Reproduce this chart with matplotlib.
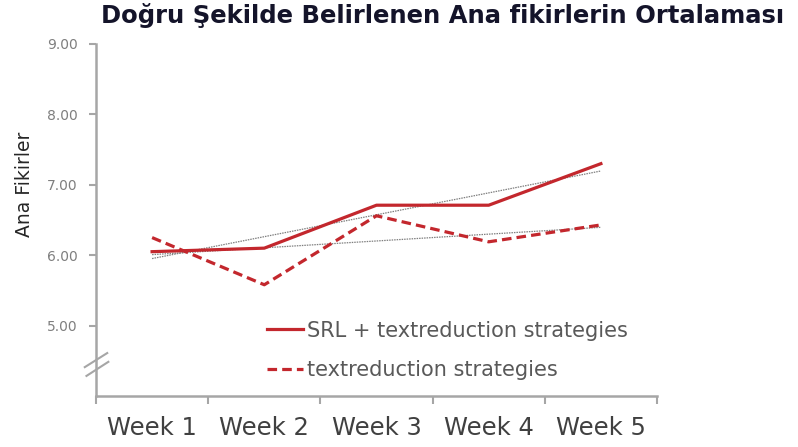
import numpy as np
import matplotlib
matplotlib.use("Agg")
import matplotlib.pyplot as plt

plt.rcParams['font.family'] = ['DejaVu Sans']

weeks = ["Week 1", "Week 2", "Week 3", "Week 4", "Week 5"]
srl_text = [6.05, 6.10, 6.71, 6.71, 7.30]   # SRL + textreduction strategies
text_only = [6.25, 5.58, 6.56, 6.19, 6.43]  # textreduction strategies
yticks = [5.0, 6.0, 7.0, 8.0, 9.0]

red = '#C3272D'
axis_grey = '#A6A6A6'

fig = plt.figure(figsize=(7.98, 4.47), dpi=100)
ax = fig.add_axes([0.1203, 0.1141, 0.7030, 0.7875])

x = np.arange(1, len(weeks) + 1)
ax.plot(x, srl_text, color=red, lw=2.3, label="SRL + textreduction strategies", zorder=3)
ax.plot(x, text_only, color=red, lw=2.3, ls=(0, (3, 1.6)), label="textreduction strategies", zorder=3)

# linear trend lines
for s in (srl_text, text_only):
    k, b = np.polyfit(x, s, 1)
    ax.plot(x, k * x + b, color='#7F7F7F', lw=0.9, ls=(0, (1.2, 0.8)), zorder=2)

ax.set_xlim(0.5, len(weeks) + 0.5)
ax.set_ylim(4.0, 9.0)

ax.set_xticks(np.arange(0.5, len(weeks) + 1, 1))
ax.set_xticklabels([])
ax.set_xticks(x, minor=True)
ax.set_xticklabels(weeks, minor=True)
ax.tick_params(axis='x', which='major', direction='out', length=6, width=1.5, color=axis_grey)
ax.tick_params(axis='x', which='minor', length=0, pad=14.5, labelsize=17.5, labelcolor='#404040')

ax.set_yticks(yticks)
ax.set_yticklabels(["%.2f" % v for v in yticks])
ax.tick_params(axis='y', direction='out', length=5, width=1.5, color=axis_grey,
               labelsize=10, labelcolor='#7F7F7F', pad=8)

for side in ('top', 'right'):
    ax.spines[side].set_visible(False)
for side in ('left', 'bottom'):
    ax.spines[side].set_color(axis_grey)
    ax.spines[side].set_linewidth(1.8)

# axis break marks
ax.plot([-0.020, 0.020], [0.082, 0.122], transform=ax.transAxes, color=axis_grey, lw=1.5, clip_on=False)
ax.plot([-0.017, 0.022], [0.057, 0.097], transform=ax.transAxes, color=axis_grey, lw=1.5, clip_on=False)

ax.set_ylabel("Ana Fikirler", fontsize=13.5, color='#262626')
ax.yaxis.set_label_coords(-0.11, 0.6)

leg = ax.legend(loc='center left', bbox_to_anchor=(0.305, 0.13), frameon=False,
                fontsize=15, handlelength=1.73, handletextpad=0.2, labelspacing=0.92,
                borderpad=0, borderaxespad=0)
for t in leg.get_texts():
    t.set_color('#595959')

fig.text(0.554, 0.966, "Doğru Şekilde Belirlenen Ana fikirlerin Ortalaması",
         ha='center', va='center', fontsize=17.5, fontweight='bold', color='#14142A')

fig.savefig("out.png", dpi=100)
